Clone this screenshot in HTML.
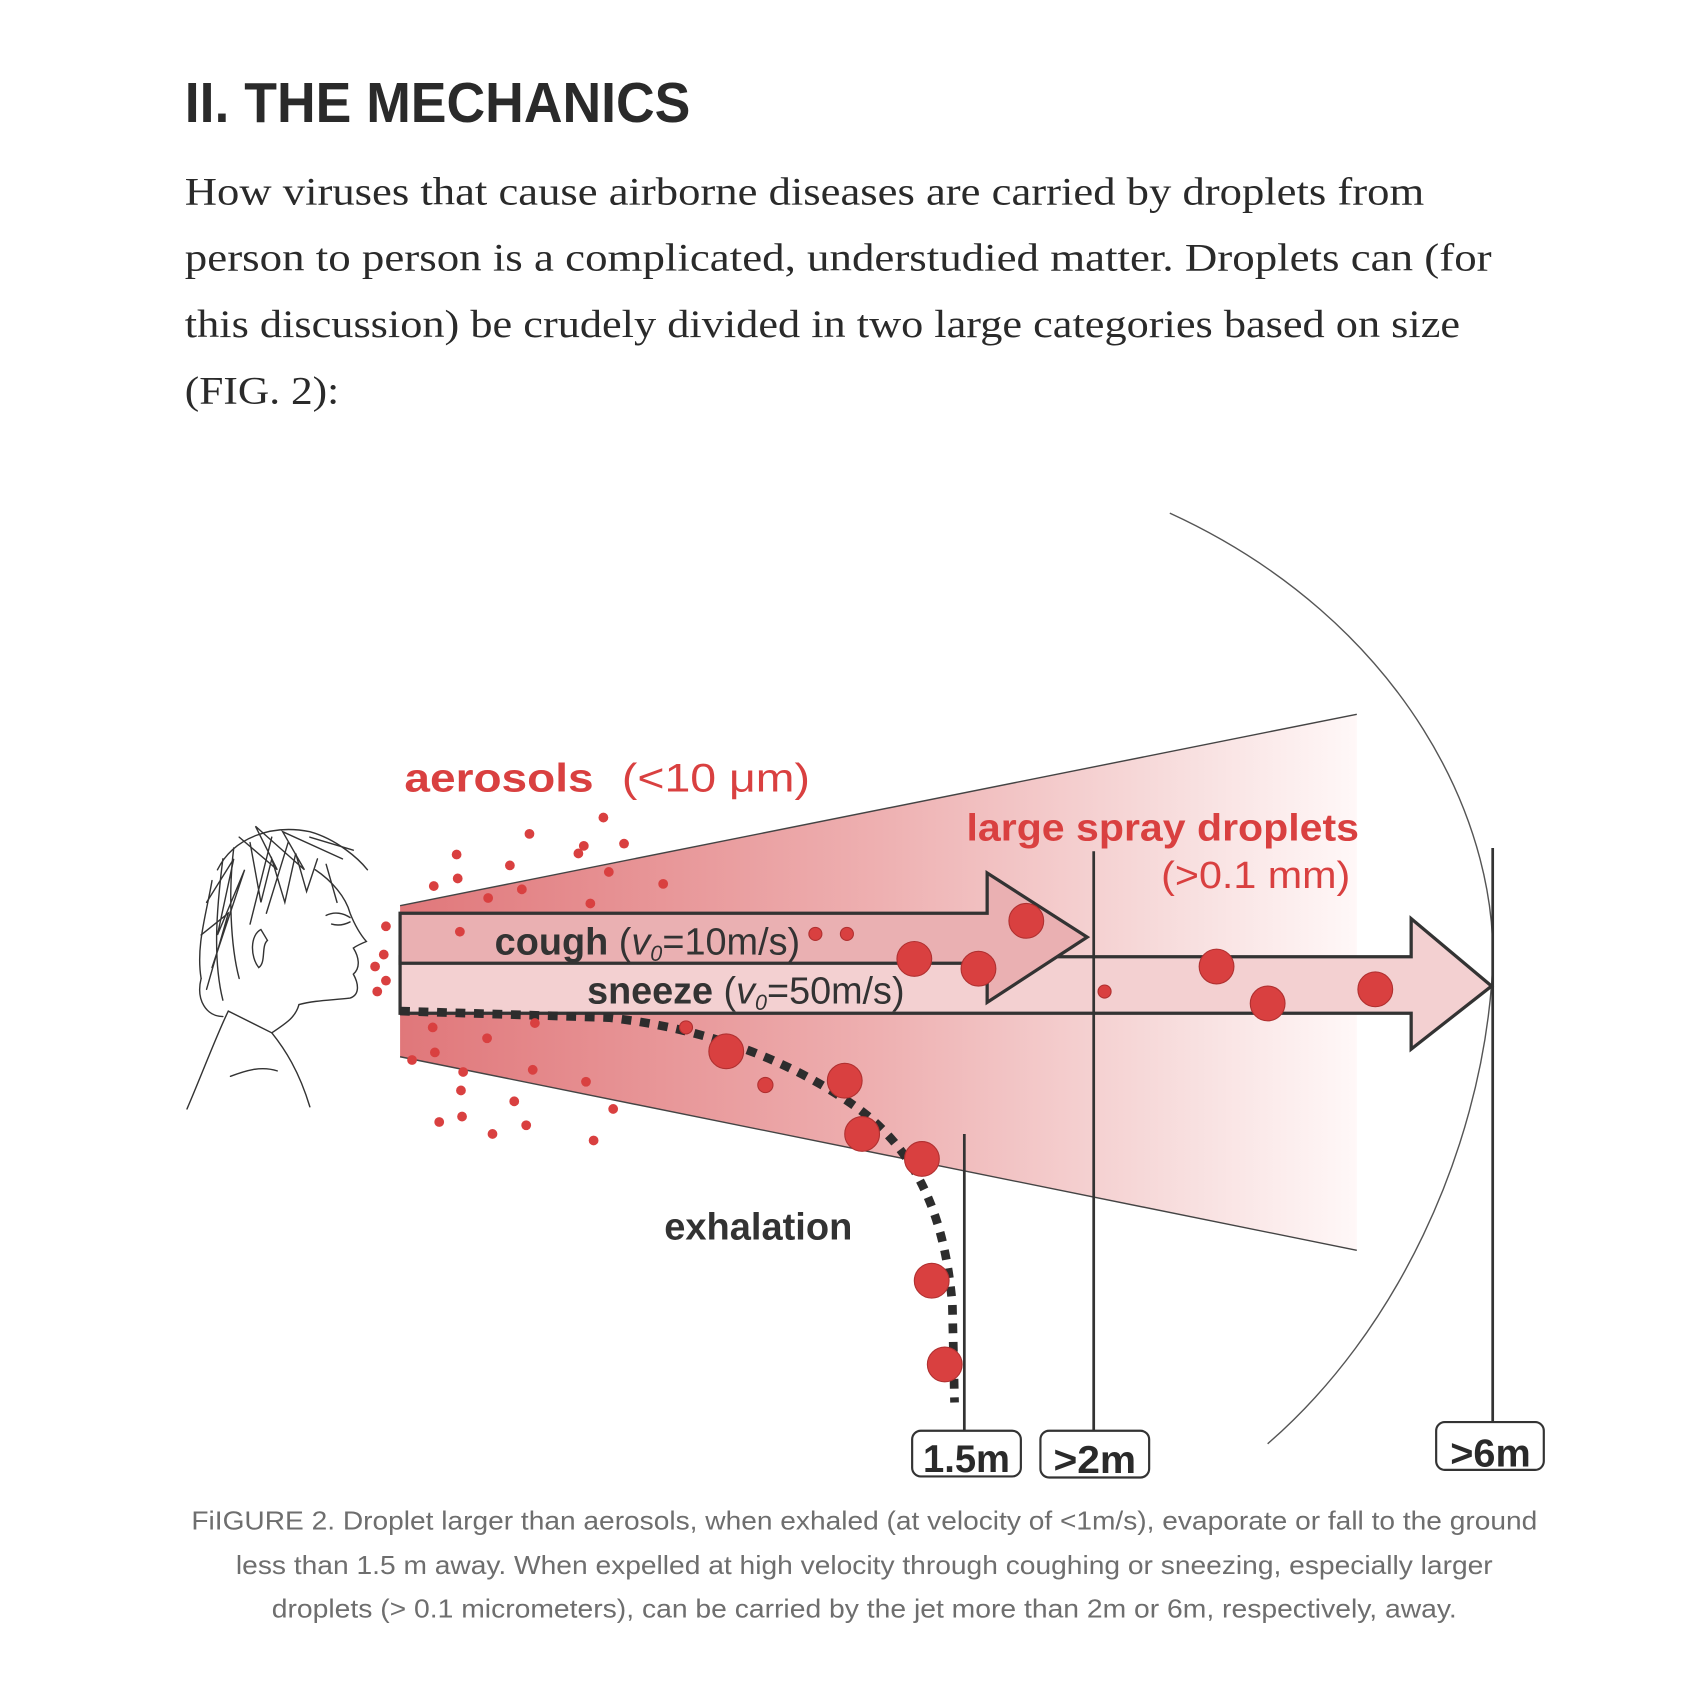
<!DOCTYPE html>
<html><head><meta charset="utf-8"><style>html,body{margin:0;padding:0;background:#fff}svg{display:block}</style></head>
<body>
<svg width="1696" height="1702" viewBox="0 0 1560 1565.5" preserveAspectRatio="none" xmlns="http://www.w3.org/2000/svg">
<defs>
<linearGradient id="cone" x1="368" y1="0" x2="1250" y2="0" gradientUnits="userSpaceOnUse">
<stop offset="0" stop-color="#e0777a"/><stop offset="0.5" stop-color="#eeb0b1"/><stop offset="0.8" stop-color="#f7dcdc"/><stop offset="1" stop-color="#fff8f8"/>
</linearGradient>
</defs>
<text x="170" y="112" font-family="Liberation Sans, sans-serif" font-weight="bold" font-size="52" fill="#2a2a2a" textLength="465" lengthAdjust="spacingAndGlyphs">II. THE MECHANICS</text>
<g font-family="Liberation Serif, serif" font-size="36" fill="#2a2a2a">
<text x="170" y="188" textLength="1140" lengthAdjust="spacingAndGlyphs">How viruses that cause airborne diseases are carried by droplets from</text>
<text x="170" y="249" textLength="1202" lengthAdjust="spacingAndGlyphs">person to person is a complicated, understudied matter. Droplets can (for</text>
<text x="170" y="310" textLength="1173" lengthAdjust="spacingAndGlyphs">this discussion) be crudely divided in two large categories based on size</text>
<text x="170" y="371" textLength="142" lengthAdjust="spacingAndGlyphs">(FIG. 2):</text>
</g>
<path d="M1076,472 C1290,570 1385,760 1372,905 C1360,1060 1285,1225 1166,1328" fill="none" stroke="#555" stroke-width="1.3"/>
<polygon points="368,833 1248,657 1248,1150 368,972" fill="url(#cone)"/>
<line x1="368" y1="833" x2="1248" y2="657" stroke="#444" stroke-width="1.3"/>
<line x1="368" y1="972" x2="1248" y2="1150" stroke="#444" stroke-width="1.3"/>
<polygon points="368,880 1298,880 1298,845 1372,907 1298,965 1298,932 368,932" fill="#f3d0d1" stroke="#333" stroke-width="3"/>
<polygon points="368,840 908,840 908,803 1000,862 908,922 908,886 368,886" fill="#eab0b2" stroke="#333" stroke-width="3"/>
<g stroke="#333" stroke-width="2.5">
<line x1="887" y1="1043" x2="887" y2="1318"/>
<line x1="1006" y1="783" x2="1006" y2="1318"/>
<line x1="1373" y1="780" x2="1373" y2="1310"/>
</g>
<path d="M368,930 L560,936 C640,945 720,970 790,1020 C850,1065 870,1130 876,1200 L878,1290" fill="none" stroke="#2d2d2d" stroke-width="8" stroke-dasharray="9 8"/>
<g fill="#d94040" stroke="#b03030" stroke-width="1">
<circle cx="944" cy="847" r="16"/><circle cx="841" cy="882" r="16"/><circle cx="900" cy="891" r="16"/>
<circle cx="1119" cy="889" r="16"/><circle cx="1166" cy="923" r="16"/><circle cx="1265" cy="910" r="16"/>
<circle cx="668" cy="967" r="16"/><circle cx="777" cy="994" r="16"/><circle cx="793" cy="1043" r="16"/>
<circle cx="848" cy="1066" r="16"/><circle cx="857" cy="1178" r="16"/><circle cx="869" cy="1255" r="16"/>
<circle cx="1016" cy="912" r="6"/><circle cx="704" cy="998" r="7"/><circle cx="750" cy="859" r="6"/><circle cx="779" cy="859" r="6"/><circle cx="631" cy="945" r="6"/>
</g>
<g fill="#d94040">
<circle cx="555" cy="752" r="4.5"/><circle cx="487" cy="767" r="4.5"/><circle cx="537" cy="778" r="4.5"/><circle cx="532" cy="785" r="4.5"/><circle cx="574" cy="776" r="4.5"/>
<circle cx="420" cy="786" r="4.5"/><circle cx="469" cy="796" r="4.5"/><circle cx="421" cy="808" r="4.5"/><circle cx="399" cy="815" r="4.5"/>
<circle cx="449" cy="826" r="4.5"/><circle cx="480" cy="818" r="4.5"/><circle cx="560" cy="802" r="4.5"/><circle cx="610" cy="813" r="4.5"/><circle cx="543" cy="831" r="4.5"/>
<circle cx="423" cy="857" r="4.5"/><circle cx="355" cy="852" r="4.5"/><circle cx="353" cy="878" r="4.5"/><circle cx="345" cy="889" r="4.5"/><circle cx="355" cy="902" r="4.5"/><circle cx="347" cy="912" r="4.5"/>
<circle cx="398" cy="945" r="4.5"/><circle cx="492" cy="941" r="4.5"/><circle cx="448" cy="955" r="4.5"/><circle cx="400" cy="968" r="4.5"/><circle cx="379" cy="975" r="4.5"/>
<circle cx="490" cy="984" r="4.5"/><circle cx="426" cy="986" r="4.5"/><circle cx="539" cy="995" r="4.5"/><circle cx="424" cy="1003" r="4.5"/>
<circle cx="473" cy="1013" r="4.5"/><circle cx="564" cy="1020" r="4.5"/><circle cx="425" cy="1027" r="4.5"/><circle cx="404" cy="1032" r="4.5"/><circle cx="484" cy="1035" r="4.5"/><circle cx="453" cy="1043" r="4.5"/><circle cx="546" cy="1049" r="4.5"/>
</g>
<g fill="none" stroke="#333" stroke-width="1.3" stroke-linecap="round">
<path d="M200,800 C215,770 250,758 285,765 C310,772 330,790 338,800"/>
<path d="M195,810 C190,840 180,870 185,900 M205,790 C200,830 195,880 205,920 M215,780 C210,820 212,870 220,900"/>
<path d="M230,775 L240,830 L250,790 L262,830 L272,785 L282,820 L292,790 M300,795 L310,830 M250,770 L230,850 M265,775 L245,840"/>
<path d="M190,830 L215,790 L200,860 L225,800 L195,890 M185,860 L210,840 L190,910 M220,770 L255,800 L235,760 L280,800 L260,765 L315,790 M285,770 L325,782"/>
<path d="M290,800 C305,810 318,825 322,840 C326,850 330,858 337,866 C332,868 328,870 325,872 C330,880 332,890 325,896 C330,905 331,915 322,918 C305,920 290,920 275,924"/>
<path d="M240,855 C230,860 230,880 238,890 C245,885 240,870 246,865 Z"/>
<path d="M300,842 C308,838 316,840 322,844 M305,850 C312,852 318,850 322,848"/>
<path d="M275,924 C272,935 265,940 250,950 L210,930 C200,950 185,990 172,1020"/>
<path d="M250,950 C262,965 275,985 285,1018 M212,990 C225,985 240,980 255,985"/>
<path d="M185,900 C180,920 190,935 205,935"/>
</g>
<g font-family="Liberation Sans, sans-serif" fill="#d94040">
<text x="372" y="728" font-weight="bold" font-size="37" textLength="174" lengthAdjust="spacingAndGlyphs">aerosols</text>
<text x="572" y="728" font-size="37" textLength="173" lengthAdjust="spacingAndGlyphs">(&lt;10 μm)</text>
<text x="889" y="773" font-weight="bold" font-size="35" textLength="361" lengthAdjust="spacingAndGlyphs">large spray droplets</text>
<text x="1068" y="817" font-size="35" textLength="174" lengthAdjust="spacingAndGlyphs">(&gt;0.1 mm)</text>
</g>
<g font-family="Liberation Sans, sans-serif" fill="#333" font-size="35">
<text x="455" y="878" textLength="281" lengthAdjust="spacingAndGlyphs"><tspan font-weight="bold">cough</tspan> (<tspan font-style="italic">v</tspan><tspan font-style="italic" font-size="20" dy="6">0</tspan><tspan dy="-6">=10m/s)</tspan></text>
<text x="540" y="923" textLength="292" lengthAdjust="spacingAndGlyphs"><tspan font-weight="bold">sneeze</tspan> (<tspan font-style="italic">v</tspan><tspan font-style="italic" font-size="20" dy="6">0</tspan><tspan dy="-6">=50m/s)</tspan></text>
<text x="611" y="1140" font-weight="bold" textLength="173" lengthAdjust="spacingAndGlyphs">exhalation</text>
</g>
<g fill="#fff" stroke="#333" stroke-width="2">
<rect x="839" y="1316" width="100" height="42" rx="8"/>
<rect x="957" y="1316" width="100" height="43" rx="8"/>
<rect x="1321" y="1308" width="99" height="44" rx="8"/>
</g>
<g font-family="Liberation Sans, sans-serif" font-weight="bold" font-size="36" fill="#2a2a2a">
<text x="849" y="1354" textLength="80" lengthAdjust="spacingAndGlyphs">1.5m</text>
<text x="969" y="1355" textLength="76" lengthAdjust="spacingAndGlyphs">&gt;2m</text>
<text x="1334" y="1349" textLength="74" lengthAdjust="spacingAndGlyphs">&gt;6m</text>
</g>
<g font-family="Liberation Sans, sans-serif" font-size="24" fill="#6e6e6e" text-anchor="middle">
<text x="795" y="1407" textLength="1238" lengthAdjust="spacingAndGlyphs">FiIGURE 2. Droplet larger than aerosols, when exhaled (at velocity of &lt;1m/s), evaporate or fall to the ground</text>
<text x="795" y="1448" textLength="1156" lengthAdjust="spacingAndGlyphs">less than 1.5 m away. When expelled at high velocity through coughing or sneezing, especially larger</text>
<text x="795" y="1488" textLength="1090" lengthAdjust="spacingAndGlyphs">droplets (&gt; 0.1 micrometers), can be carried by the jet more than 2m or 6m, respectively, away.</text>
</g>
</svg>
</body></html>
